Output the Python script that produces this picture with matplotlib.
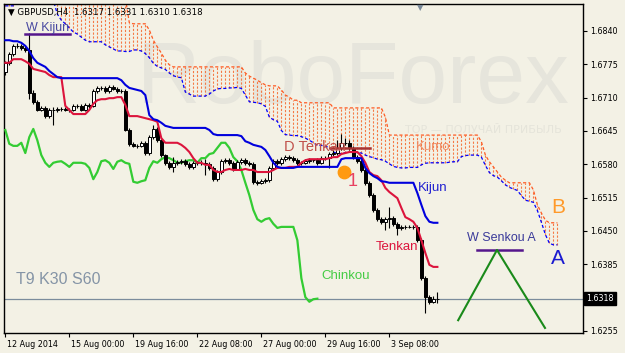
import matplotlib
matplotlib.use('Agg')
import matplotlib.pyplot as plt
import matplotlib.transforms as mtransforms
import numpy as np

# GBPUSD H4, one value per bar (bar 0 = 12 Aug 2014 08:00)
open_ = [1.6760,1.6778,1.6795,1.6811,1.6811,1.6807,1.6803,1.6719,1.6702,1.6686,
         1.6690,1.6674,1.6686,1.6686,1.6688,1.6688,1.6686,1.6686,1.6694,1.6694,
         1.6686,1.6696,1.6694,1.6723,1.6729,1.6729,1.6723,1.6731,1.6727,1.6723,
         1.6723,1.6647,1.6620,1.6616,1.6616,1.6622,1.6602,1.6633,1.6649,1.6627,
         1.6598,1.6583,1.6575,1.6583,1.6585,1.6586,1.6581,1.6575,1.6583,1.6583,
         1.6583,1.6581,1.6573,1.6551,1.6565,1.6586,1.6588,1.6583,1.6571,1.6585,
         1.6588,1.6583,1.6581,1.6546,1.6544,1.6547,1.6549,1.6573,1.6586,1.6583,
         1.6590,1.6594,1.6592,1.6588,1.6583,1.6583,1.6586,1.6588,1.6588,1.6583,
         1.6592,1.6592,1.6600,1.6602,1.6612,1.6622,1.6622,1.6612,1.6594,1.6586,
         1.6569,1.6544,1.6520,1.6491,1.6473,1.6468,1.6473,1.6475,1.6464,1.6456,
         1.6458,1.6458,1.6458,1.6458,1.6432,1.6358,1.6321,1.6312,1.6317]
high = [1.6782,1.6799,1.6815,1.6816,1.6814,1.6811,1.6836,1.6724,1.6706,1.6694,
        1.6693,1.6690,1.6692,1.6692,1.6691,1.6691,1.6690,1.6698,1.6698,1.6697,
        1.6700,1.6699,1.6727,1.6733,1.6733,1.6732,1.6735,1.6734,1.6730,1.6727,
        1.6726,1.6651,1.6623,1.6620,1.6625,1.6625,1.6637,1.6656,1.6652,1.6630,
        1.6601,1.6587,1.6594,1.6589,1.6590,1.6591,1.6585,1.6587,1.6587,1.6588,
        1.6590,1.6585,1.6576,1.6569,1.6590,1.6593,1.6592,1.6587,1.6589,1.6592,
        1.6592,1.6587,1.6584,1.6550,1.6551,1.6553,1.6577,1.6590,1.6590,1.6594,
        1.6599,1.6598,1.6596,1.6592,1.6587,1.6590,1.6592,1.6591,1.6592,1.6596,
        1.6597,1.6604,1.6607,1.6628,1.6640,1.6632,1.6627,1.6616,1.6598,1.6590,
        1.6573,1.6548,1.6524,1.6495,1.6477,1.6477,1.6496,1.6480,1.6468,1.6462,
        1.6462,1.6461,1.6462,1.6462,1.6436,1.6362,1.6325,1.6324,1.6331]
low = [1.6755,1.6774,1.6792,1.6806,1.6803,1.6799,1.6707,1.6697,1.6683,1.6683,
       1.6670,1.6671,1.6656,1.6682,1.6684,1.6683,1.6682,1.6683,1.6690,1.6683,
       1.6683,1.6690,1.6691,1.6719,1.6725,1.6719,1.6720,1.6724,1.6720,1.6719,
       1.6644,1.6616,1.6613,1.6612,1.6613,1.6599,1.6599,1.6630,1.6624,1.6594,
       1.6579,1.6571,1.6566,1.6579,1.6581,1.6577,1.6571,1.6571,1.6579,1.6579,
       1.6559,1.6569,1.6547,1.6548,1.6561,1.6582,1.6579,1.6567,1.6568,1.6581,
       1.6579,1.6577,1.6542,1.6540,1.6541,1.6543,1.6545,1.6569,1.6579,1.6579,
       1.6586,1.6588,1.6584,1.6578,1.6579,1.6580,1.6582,1.6584,1.6579,1.6580,
       1.6588,1.6573,1.6596,1.6598,1.6608,1.6617,1.6608,1.6590,1.6582,1.6565,
       1.6540,1.6516,1.6487,1.6469,1.6464,1.6451,1.6456,1.6460,1.6442,1.6452,
       1.6454,1.6455,1.6454,1.6428,1.6354,1.6290,1.6308,1.6309,1.6310]
close = [1.6778,1.6795,1.6811,1.6811,1.6807,1.6803,1.6719,1.6702,1.6686,1.6690,
         1.6674,1.6686,1.6686,1.6688,1.6688,1.6686,1.6686,1.6694,1.6694,1.6686,
         1.6696,1.6694,1.6723,1.6729,1.6729,1.6723,1.6731,1.6727,1.6723,1.6723,
         1.6647,1.6620,1.6616,1.6616,1.6622,1.6602,1.6633,1.6649,1.6627,1.6598,
         1.6583,1.6575,1.6583,1.6585,1.6586,1.6581,1.6575,1.6583,1.6583,1.6583,
         1.6581,1.6573,1.6551,1.6565,1.6586,1.6588,1.6583,1.6571,1.6585,1.6588,
         1.6583,1.6581,1.6546,1.6544,1.6547,1.6549,1.6573,1.6586,1.6583,1.6590,
         1.6594,1.6592,1.6588,1.6583,1.6583,1.6586,1.6588,1.6588,1.6583,1.6592,
         1.6592,1.6600,1.6602,1.6612,1.6622,1.6622,1.6612,1.6594,1.6586,1.6569,
         1.6544,1.6520,1.6491,1.6473,1.6468,1.6473,1.6475,1.6464,1.6456,1.6458,
         1.6458,1.6458,1.6458,1.6432,1.6358,1.6321,1.6312,1.6317,1.6318]

tenkan = [1.6778,1.6778,1.6785,1.6785,1.6785,1.6781,1.6776,1.6766,1.6764,1.6762,
          1.6760,1.6754,1.6750,1.6750,1.6750,1.6694,1.6686,1.6678,1.6678,1.6678,
          1.6678,1.6686,1.6698,1.6705,1.6707,1.6707,1.6709,1.6709,1.6711,1.6711,
          1.6696,1.6674,1.6674,1.6674,1.6672,1.6670,1.6668,1.6666,1.6663,1.6631,
          1.6622,1.6622,1.6622,1.6622,1.6618,1.6612,1.6604,1.6592,1.6583,1.6583,
          1.6579,1.6579,1.6569,1.6565,1.6565,1.6569,1.6571,1.6569,1.6569,1.6569,
          1.6571,1.6569,1.6569,1.6565,1.6565,1.6565,1.6565,1.6569,1.6573,1.6573,
          1.6573,1.6575,1.6575,1.6575,1.6583,1.6588,1.6590,1.6590,1.6590,1.6590,
          1.6590,1.6592,1.6594,1.6594,1.6600,1.6602,1.6604,1.6604,1.6604,1.6596,
          1.6583,1.6565,1.6559,1.6557,1.6549,1.6534,1.6526,1.6520,1.6514,1.6495,
          1.6477,1.6473,1.6468,1.6456,1.6432,1.6407,1.6384,1.6380,1.6380]
kijun = [1.6822,1.6822,1.6820,1.6820,1.6817,1.6811,1.6801,1.6787,1.6778,1.6774,
         1.6770,1.6762,1.6756,1.6750,1.6748,1.6748,1.6748,1.6748,1.6748,1.6748,
         1.6748,1.6748,1.6748,1.6748,1.6748,1.6748,1.6748,1.6748,1.6748,1.6744,
         1.6735,1.6729,1.6727,1.6725,1.6723,1.6715,1.6676,1.6668,1.6666,1.6661,
         1.6655,1.6653,1.6651,1.6651,1.6651,1.6651,1.6651,1.6651,1.6651,1.6651,
         1.6651,1.6647,1.6639,1.6637,1.6637,1.6637,1.6637,1.6637,1.6637,1.6635,
         1.6625,1.6622,1.6618,1.6616,1.6614,1.6608,1.6596,1.6583,1.6575,1.6573,
         1.6573,1.6573,1.6573,1.6575,1.6575,1.6575,1.6575,1.6575,1.6575,1.6575,
         1.6575,1.6575,1.6575,1.6575,1.6590,1.6592,1.6592,1.6592,1.6592,1.6592,
         1.6573,1.6563,1.6557,1.6553,1.6547,1.6546,1.6544,1.6544,1.6544,1.6544,
         1.6544,1.6544,1.6544,1.6524,1.6501,1.6479,1.6468,1.6466,1.6466]

# cloud, 30 bars ahead of price (bars 0..138)
senkou_a = [1.6889,1.6889,1.6889,1.6900,1.6900,1.6900,1.6900,1.6900,1.6900,1.6900,
            1.6900,1.6900,1.6900,1.6873,1.6861,1.6854,1.6846,1.6838,1.6834,1.6828,
            1.6822,1.6819,1.6819,1.6819,1.6819,1.6813,1.6809,1.6805,1.6801,1.6801,
            1.6800,1.6800,1.6803,1.6803,1.6801,1.6796,1.6788,1.6777,1.6771,1.6768,
            1.6765,1.6758,1.6753,1.6750,1.6749,1.6721,1.6717,1.6713,1.6713,1.6713,
            1.6713,1.6717,1.6723,1.6727,1.6728,1.6728,1.6729,1.6729,1.6730,1.6728,
            1.6715,1.6702,1.6701,1.6700,1.6698,1.6693,1.6672,1.6667,1.6664,1.6646,
            1.6638,1.6637,1.6636,1.6636,1.6634,1.6631,1.6627,1.6622,1.6617,1.6617,
            1.6615,1.6613,1.6604,1.6601,1.6601,1.6603,1.6604,1.6603,1.6603,1.6602,
            1.6598,1.6595,1.6593,1.6590,1.6589,1.6586,1.6581,1.6576,1.6574,1.6573,
            1.6573,1.6574,1.6574,1.6574,1.6579,1.6582,1.6583,1.6583,1.6583,1.6583,
            1.6583,1.6584,1.6585,1.6585,1.6595,1.6597,1.6598,1.6598,1.6598,1.6594,
            1.6578,1.6564,1.6558,1.6555,1.6548,1.6540,1.6535,1.6532,1.6529,1.6519,
            1.6510,1.6508,1.6506,1.6490,1.6467,1.6443,1.6426,1.6423,1.6423]
senkou_b = [1.6905]*31 + [
            1.6856,1.6854,1.6854,1.6854,1.6854,1.6842,1.6822,1.6809,1.6797,
            1.6783,1.6774,1.6770,1.6770,1.6770,1.6770,1.6770,1.6770,1.6770,1.6770,
            1.6770,1.6770,1.6770,1.6770,1.6770,1.6770,1.6770,1.6770,1.6770,1.6770,
            1.6758,1.6752,1.6748,1.6744,1.6739,1.6735,1.6733,1.6733,1.6733,1.6725,
            1.6715,1.6711,1.6705,1.6705,1.6700,1.6700,1.6700,1.6700,1.6700,1.6700,
            1.6700,1.6700,1.6690,1.6690,1.6690,1.6690,1.6690,1.6690,1.6690,1.6690,
            1.6690,1.6690,1.6690,1.6690,1.6690,1.6672,1.6637,1.6637,1.6637,1.6637,
            1.6637,1.6637,1.6637,1.6637,1.6637,1.6637,1.6637,1.6637,1.6637,1.6637,
            1.6637,1.6637,1.6637,1.6637,1.6637,1.6637,1.6637,1.6637,1.6637,1.6624,
            1.6598,1.6585,1.6575,1.6565,1.6555,1.6549,1.6544,1.6544,1.6544,1.6544,
            1.6544,1.6544,1.6530,1.6501,1.6485,1.6471,1.6466,1.6466,1.6466]

shift = 30
tick_bars = [0, 16, 32, 48, 64, 80, 96]
tick_labels = ['12 Aug 2014', '15 Aug 00:00', '19 Aug 16:00', '22 Aug 08:00',
               '27 Aug 00:00', '29 Aug 16:00', '3 Sep 08:00']
price_ticks = [1.6255, 1.6385, 1.6450, 1.6515, 1.6580, 1.6645, 1.6710, 1.6775, 1.6840]
last_price = 1.6318

bg = '#f3f1e5'
fig = plt.figure(figsize=(6.25, 3.53), dpi=100, facecolor=bg)
ax = fig.add_axes([4.3/625, 20/353, 578.7/625, 329/353], facecolor=bg)
ax.set_xlim(-0.25, 144.4)
ax.set_ylim(1.62511, 1.68926)

bars = np.arange(len(close))
cloud_bars = np.arange(len(senkou_a))

# watermark
ax.text(87, 1.6744, 'RoboForex', fontsize=63, color='#e6e5dc', ha='center', va='center',
        family='Liberation Sans', zorder=0)
ax.text(119.4, 1.6647, 'ТОР — ПОЛУЧАЙ ПРИБЫЛЬ', fontsize=8, color='#e5e4da', ha='center',
        va='center', family='DejaVu Sans', zorder=0)

# cloud
hatch = ax.vlines(cloud_bars, senkou_a, senkou_b, colors='#f47a45', linestyles=(0, (2, 1.5)),
                  lw=0.8, zorder=1)
hatch.set_snap(True)
ax.plot(cloud_bars, senkou_b, color='#ff5a22', ls=(0, (2.5, 1.8)), lw=0.9, zorder=2)
ax.plot(cloud_bars, senkou_a, color='#0000ff', ls=(0, (2.5, 1.8)), lw=0.9, zorder=2)

ax.axhline(last_price, color='#7b8c9c', lw=0.9, zorder=2)

# chikou: close plotted 30 bars back
ax.plot(bars[:-shift], close[shift:], color='#33cc33', lw=1.6, zorder=3)

# candles
wicks = ax.vlines(bars, low, high, color='black', lw=0.8, zorder=4)
wicks.set_snap(True)
up = [c >= o for o, c in zip(open_, close)]
body = [c - o for o, c in zip(open_, close)]
ax.bar(bars, body, bottom=open_, width=0.6,
       color=['white' if u else 'black' for u in up], edgecolor='black', lw=0.7, zorder=5)

ax.plot(bars, tenkan, color='#dc143c', lw=1.5, zorder=6)
ax.plot(bars, kijun, color='#0000dd', lw=1.5, zorder=6)

# markings
lf = 'Liberation Sans'
ax.plot([5, 16.2], [1.6834, 1.6834], color='#55168c', lw=1.8, zorder=7)
ax.text(10.5, 1.6845, 'W Kijun', color='#4848a0', fontsize=9, family=lf, ha='center', va='center', zorder=7)
ax.plot([81.2, 91.2], [1.6612, 1.6612], color='#a83232', lw=1.8, zorder=7)
ax.text(77.4, 1.6614, 'D Tenkan', color='#c0504a', fontsize=10.5, family=lf, ha='center', va='center', zorder=8)
ax.scatter([84.6], [1.6566], s=80, color='#ff9a10', zorder=7)
ax.text(86.8, 1.6546, '1', color='#e84060', fontsize=13, family=lf, ha='center', va='center', zorder=8)
ax.text(107, 1.6614, 'Kumo', color='#f08860', fontsize=9.5, family=lf, ha='center', va='center', zorder=8)
ax.text(106.8, 1.6534, 'Kijun', color='#2020d0', fontsize=9.5, family=lf, ha='center', va='center', zorder=8)
ax.text(98, 1.6419, 'Tenkan', color='#dc143c', fontsize=9.5, family=lf, ha='center', va='center', zorder=8)
ax.text(85, 1.6362, 'Chinkou', color='#44cc44', fontsize=9.5, family=lf, ha='center', va='center', zorder=8)
ax.text(2.7, 1.6355, 'T9 K30 S60', color='#8494a6', fontsize=11.5, family=lf, ha='left', va='center', zorder=8)
ax.text(138.2, 1.6495, 'B', color='#ff9a2a', fontsize=15, family=lf, ha='center', va='center', zorder=8)
ax.text(138.2, 1.6397, 'A', color='#1a1ad0', fontsize=15, family=lf, ha='center', va='center', zorder=8)
ax.text(124, 1.6436, 'W Senkou A', color='#3a3a9a', fontsize=9, family=lf, ha='center', va='center', zorder=8)
ax.plot([118, 129.2], [1.6413, 1.6413], color='#55168c', lw=1.8, zorder=7)
ax.plot([113.2, 122.9, 134.9], [1.6276, 1.6413, 1.6261], color='#1a8a1a', lw=1.5, zorder=7)

# header and chart shift marker
ax.text(0.006, 0.976, '▼ GBPUSD,H4  1.6317 1.6331 1.6310 1.6318', transform=ax.transAxes,
        fontsize=6.2, family='DejaVu Sans', color='black', va='center', ha='left', zorder=9)
ax.text(103.7, 1.6886, '▼', fontsize=6, color='#7a8a9a', ha='center', va='center', zorder=9)

# axes
for s in ax.spines.values():
    s.set_color('black')
    s.set_linewidth(1)
ax.yaxis.tick_right()
ax.set_yticks(price_ticks)
ax.set_yticklabels(['%.4f' % p for p in price_ticks])
ax.set_xticks(tick_bars)
ax.set_xticklabels(tick_labels, ha='left')
ax.tick_params(axis='both', labelsize=5.8, length=3, width=0.8, color='black', pad=2)
for lab in ax.get_xticklabels():
    lab.set_transform(lab.get_transform() + mtransforms.ScaledTranslation(2/100, 0, fig.dpi_scale_trans))

ax.text(1.006, last_price, '%.4f' % last_price, transform=ax.get_yaxis_transform(),
        fontsize=5.8, color='white', va='center', ha='left', family='DejaVu Sans',
        bbox=dict(boxstyle='square,pad=0.25', fc='black', ec='black'), zorder=10)

fig.savefig('out.png', dpi=100, facecolor=bg)
